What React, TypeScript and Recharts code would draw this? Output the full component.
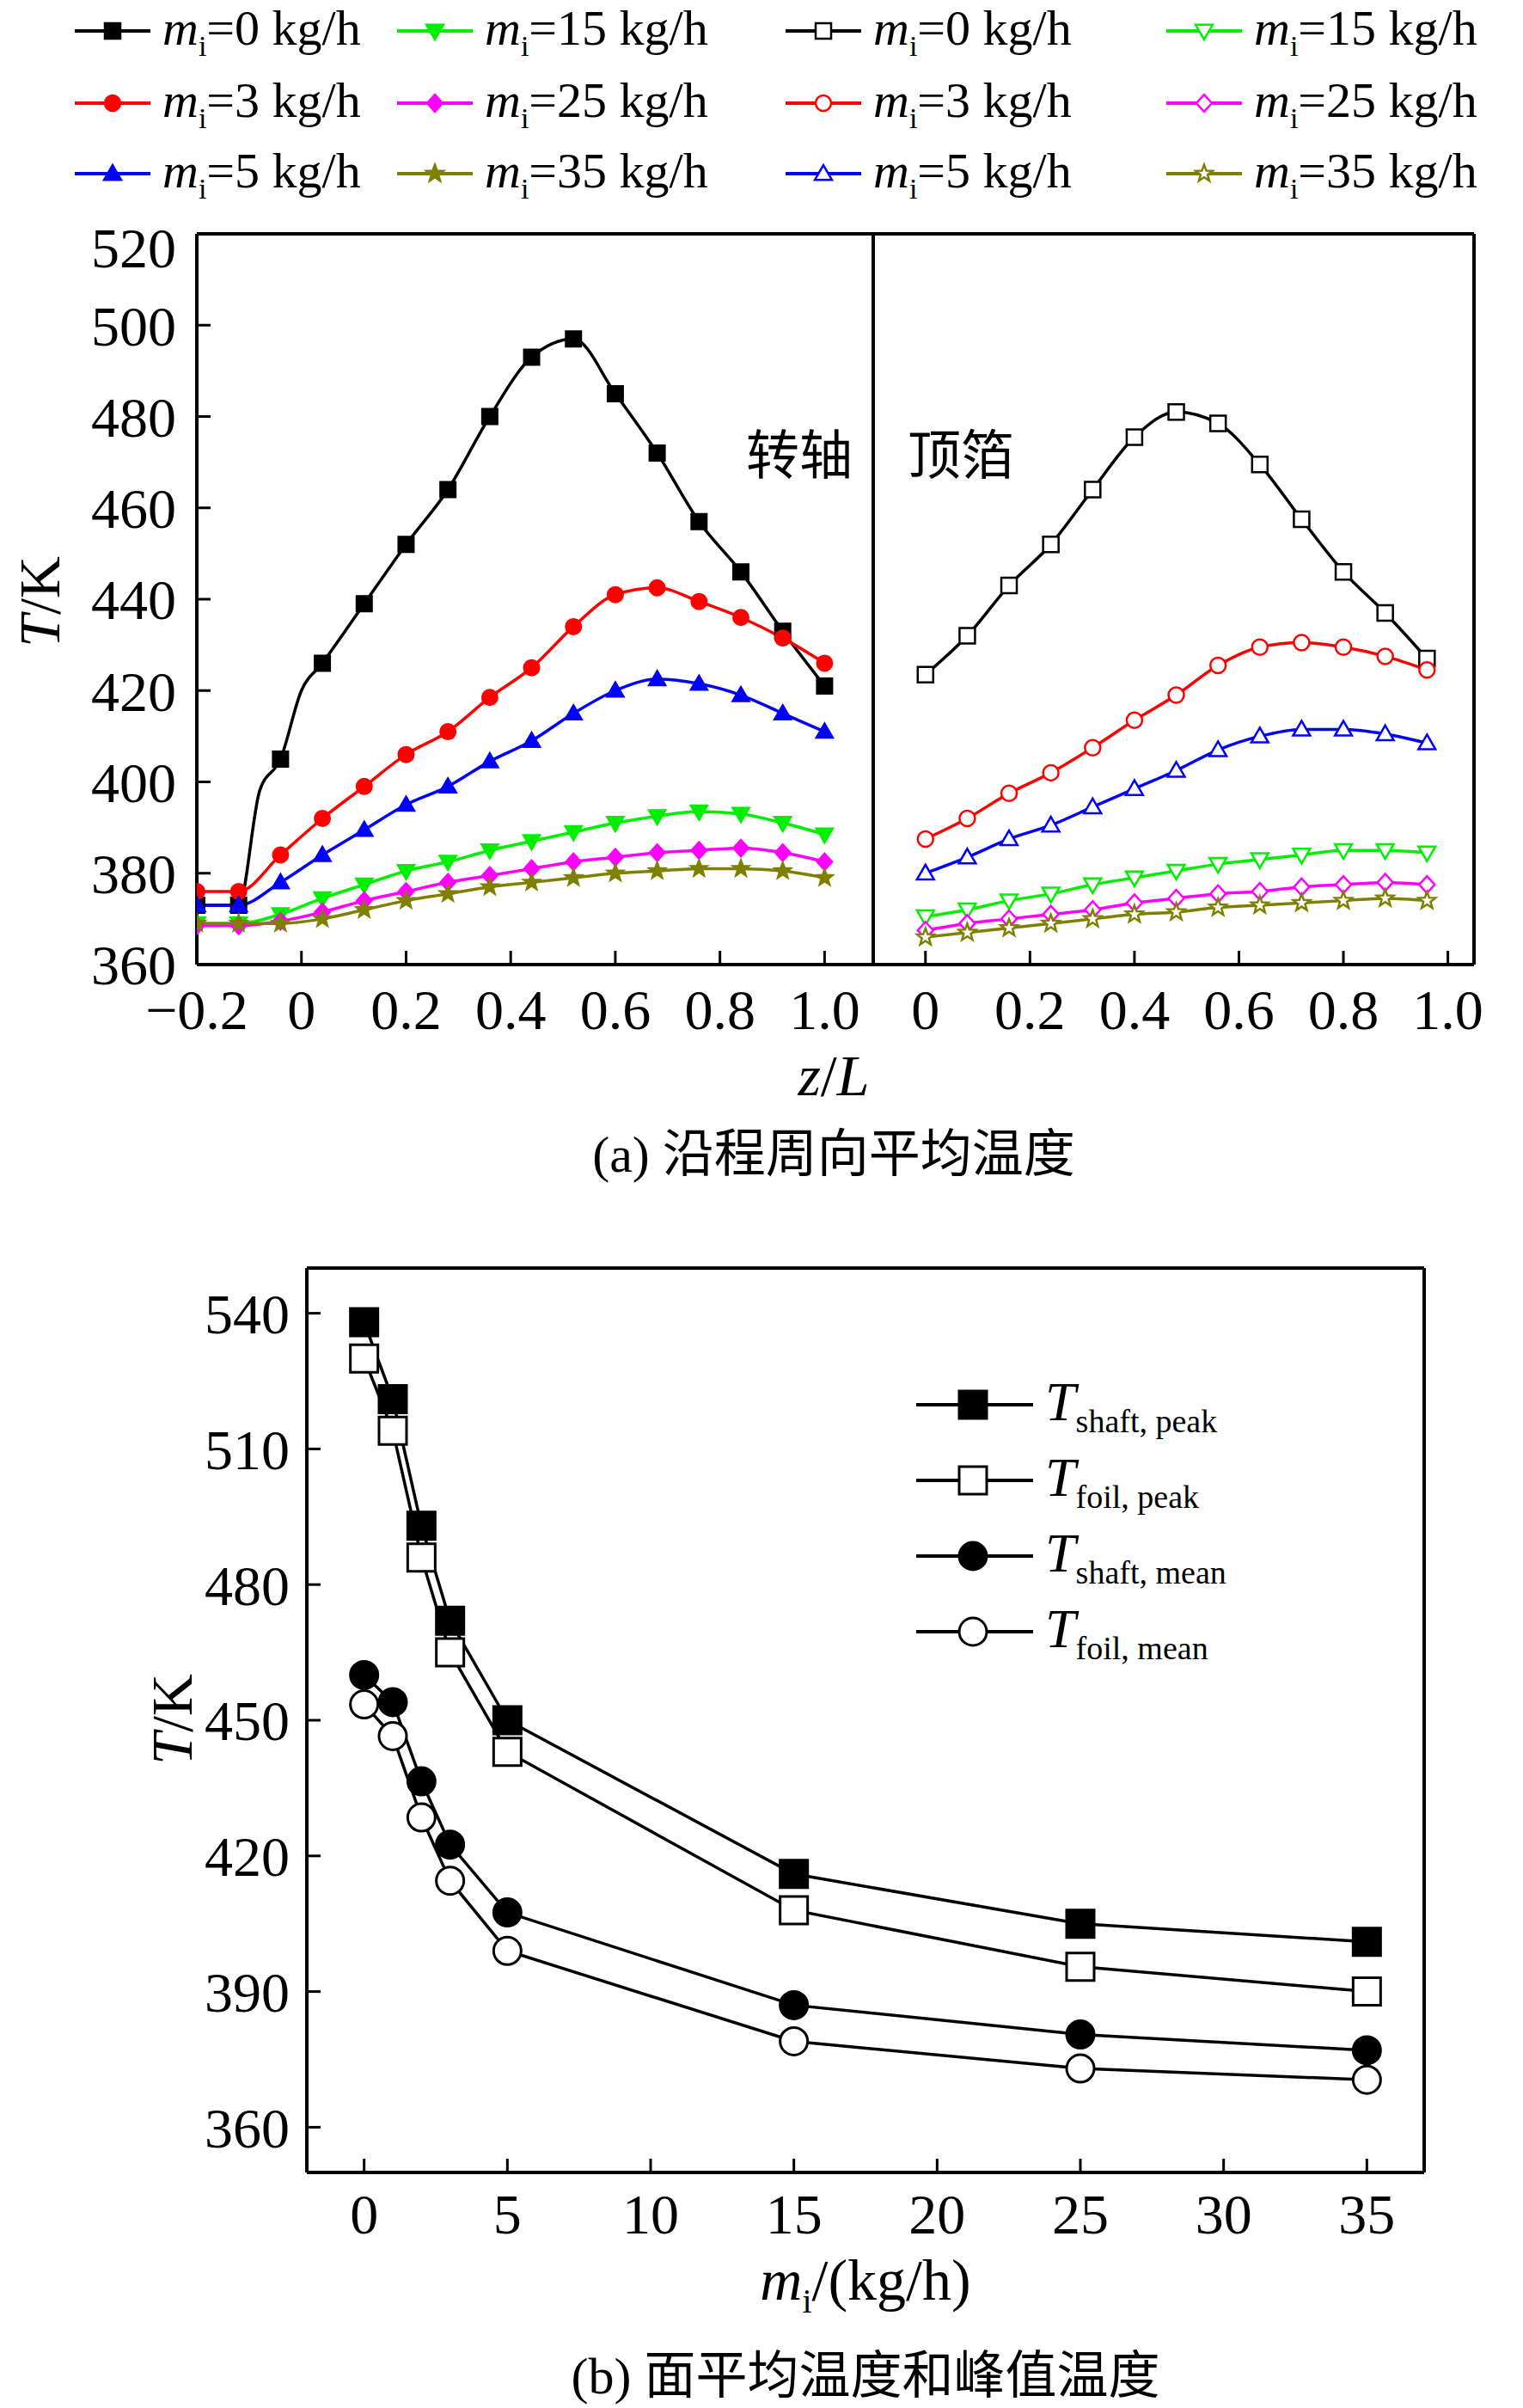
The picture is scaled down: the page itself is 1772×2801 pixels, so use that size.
import React from 'react';
import { LineChart, Line, XAxis, YAxis, ReferenceLine } from 'recharts';

// ---- data (a): circumferential mean temperature along z/L ----
const zShaft = [-0.2, -0.12, -0.04, 0.04, 0.12, 0.2, 0.28, 0.36, 0.44, 0.52, 0.6, 0.68, 0.76, 0.84, 0.92, 1.0];
const shaft0 = [373, 373, 405, 426, 439, 452, 464, 480, 493, 497, 485, 472, 457, 446, 433, 421];
const shaft0Extra = [{ z: -0.08, t: 398 }, { z: 0.0, t: 420 }];
const shaft3 = [376, 376, 384, 392, 399, 406, 411, 418.5, 425, 434, 441, 442.5, 439.5, 436, 431.5, 426];
const shaft5 = [373, 373, 378, 384, 389.5, 395, 399, 404.5, 409, 415, 420, 422.5, 421.5, 419, 415, 411];
const shaft15 = [369, 369, 371, 374.5, 377.5, 380.5, 382.5, 385, 387, 389, 391, 392.5, 393.5, 393, 391, 388.5];
const shaft25 = [368.5, 368.5, 369.5, 371.5, 374, 376, 378, 379.5, 381, 382.5, 383.5, 384.5, 385, 385.5, 384.5, 382.5];
const shaft35 = [369, 369, 369, 370, 372, 374, 375.5, 377, 378, 379, 380, 380.5, 381, 381, 380.5, 379];

const zFoil = [0, 0.08, 0.16, 0.24, 0.32, 0.4, 0.48, 0.56, 0.64, 0.72, 0.8, 0.88, 0.96];
const foil0 = [423.5, 432, 443, 452, 464, 475.5, 481, 478.5, 469.5, 457.5, 446, 437, 427];
const foil3 = [387.5, 392, 397.5, 402, 407.5, 413.5, 419, 425.5, 429.5, 430.5, 429.5, 427.5, 424.5];
const foil5 = [380, 383.5, 387.5, 390.5, 394.5, 398.5, 402.5, 407, 410, 411.5, 411.5, 410.5, 408.5];
const foil15 = [370.5, 372, 374, 375.5, 377.5, 379, 380.5, 382, 383, 384, 385, 385, 384.5];
const foil25 = [367.5, 369, 370, 371, 372, 373.5, 374.5, 375.5, 376, 377, 377.5, 378, 377.5];
const foil35 = [366, 367, 368, 369, 370, 371, 371.5, 372.5, 373, 373.5, 374, 374.5, 374];

const shaftTicksX = [-0.2, 0, 0.2, 0.4, 0.6, 0.8, 1.0];
const foilTicksX = [0, 0.2, 0.4, 0.6, 0.8, 1.0];
const ticksTopY = [360, 380, 400, 420, 440, 460, 480, 500, 520];

// ---- data (b): mean and peak temperature vs mi ----
const massFlow = [0, 1, 2, 3, 5, 15, 25, 35];
const shaftPeak = [538, 521, 493, 472, 450, 416, 405, 401];
const foilPeak = [530, 514, 486, 465, 443, 408, 395.5, 390];
const shaftMean = [460, 454, 436.5, 422.5, 407.5, 387, 380.5, 377];
const foilMean = [453.5, 446.5, 428.5, 414.5, 399, 379, 373, 370.5];
const ticksBottomX = [0, 5, 10, 15, 20, 25, 30, 35];
const ticksBottomY = [360, 390, 420, 450, 480, 510, 540];

const flowLabels = ['0', '3', '5', '15', '25', '35'];
const colors = ['#000000', '#ff0000', '#0000ff', '#00ee00', '#ff00ff', '#808000'];
const shapes = ['square', 'circle', 'triUp', 'triDown', 'diamond', 'star'];

const FONT = '"Liberation Serif", "Times New Roman", serif';
const CJK = '"Noto Sans CJK SC", sans-serif';

const toPts = (xs: number[], ys: number[]) => xs.map((z, i) => ({ z, t: ys[i] }));

function markerPath(shape: string, cx: number, cy: number, s: number): string {
  const r = s / 2;
  switch (shape) {
    case 'square':
      return `M${cx - r},${cy - r}h${s}v${s}h${-s}Z`;
    case 'triUp':
      return `M${cx},${cy - r * 1.1}L${cx + r * 1.1},${cy + r * 0.8}L${cx - r * 1.1},${cy + r * 0.8}Z`;
    case 'triDown':
      return `M${cx},${cy + r * 1.1}L${cx + r * 1.1},${cy - r * 0.8}L${cx - r * 1.1},${cy - r * 0.8}Z`;
    case 'diamond':
      return `M${cx},${cy - r * 1.1}L${cx + r},${cy}L${cx},${cy + r * 1.1}L${cx - r},${cy}Z`;
    case 'star': {
      let d = '';
      for (let k = 0; k < 10; k++) {
        const rr = k % 2 === 0 ? r * 1.15 : r * 0.48;
        const a = -Math.PI / 2 + (k * Math.PI) / 5;
        d += (k === 0 ? 'M' : 'L') + (cx + rr * Math.cos(a)).toFixed(2) + ',' + (cy + rr * Math.sin(a)).toFixed(2);
      }
      return d + 'Z';
    }
    default:
      return '';
  }
}

function Mark({ shape, color, open, cx, cy, size, sw }: any) {
  const fill = open ? '#ffffff' : color;
  if (shape === 'circle') {
    return <circle cx={cx} cy={cy} r={size / 2} fill={fill} stroke={color} strokeWidth={sw} />;
  }
  return <path d={markerPath(shape, cx, cy, size)} fill={fill} stroke={color} strokeWidth={sw} />;
}

const dotFn = (shape: string, color: string, open: boolean, size: number, sw: number) => (p: any) => {
  if (p.payload && p.payload.extra) return <g key={p.index} />;
  return <Mark key={p.index} shape={shape} color={color} open={open} cx={p.cx} cy={p.cy} size={size} sw={sw} />;
};

const fmtZ = (v: number) => (v === 0 ? '0' : v < 0 ? '\u2212' + Math.abs(v).toFixed(1) : v.toFixed(1));

const tickStyle = { fontFamily: FONT, fontSize: 66, fill: '#000' };
const axisLine = { stroke: '#000', strokeWidth: 4 };
const tickLine = { stroke: '#000', strokeWidth: 3 };
const frame = { stroke: '#000', strokeWidth: 4 };

function LegendItem({ x, y, idx, open }: any) {
  return (
    <div style={{ position: 'absolute', left: x, top: y - 40, height: 80, display: 'flex', alignItems: 'center' }}>
      <svg width={92} height={40} style={{ marginRight: 12 }}>
        <line x1={2} y1={20} x2={90} y2={20} stroke={colors[idx]} strokeWidth={4} />
        <Mark shape={shapes[idx]} color={colors[idx]} open={open} cx={46} cy={20} size={18} sw={2.5} />
      </svg>
      <span style={{ fontFamily: FONT, fontSize: 58, whiteSpace: 'nowrap' }}>
        <i>m</i><sub style={{ fontSize: 34 }}>i</sub>={flowLabels[idx]} kg/h
      </span>
    </div>
  );
}

const shaftSeries = [shaft0, shaft3, shaft5, shaft15, shaft25, shaft35];
const foilSeries = [foil0, foil3, foil5, foil15, foil25, foil35];

export default function App() {
  const shaftData = shaftSeries.map((s, i) =>
    i === 0
      ? [...toPts(zShaft, s), ...shaft0Extra.map((e) => ({ ...e, extra: true }))].sort((a, b) => a.z - b.z)
      : toPts(zShaft, s)
  );
  const foilData = foilSeries.map((s) => toPts(zFoil, s));
  const bSeries = [
    { d: shaftPeak, shape: 'square', open: false, label: 'shaft, peak' },
    { d: foilPeak, shape: 'square', open: true, label: 'foil, peak' },
    { d: shaftMean, shape: 'circle', open: false, label: 'shaft, mean' },
    { d: foilMean, shape: 'circle', open: true, label: 'foil, mean' },
  ];

  const legendRows = [36, 120, 202];
  const legendCols = [[85, false], [460, false], [912, true], [1355, true]] as const;

  return (
    <div style={{ position: 'absolute', left: 0, top: 0, width: 1772, height: 2801, background: '#fff', overflow: 'hidden' }}>
      {/* legend (a) */}
      {legendCols.map(([x, open], c) =>
        legendRows.map((y, r) => {
          const idx = (c % 2) * 3 + r;
          return <LegendItem key={`${c}-${r}`} x={x} y={y} idx={idx} open={open} />;
        })
      )}

      {/* (a) left panel: shaft */}
      <div style={{ position: 'absolute', left: 0, top: 250 }}>
        <LineChart width={1020} height={992} margin={{ top: 22, right: 4, bottom: 0, left: 119 }}>
          <XAxis xAxisId="b" type="number" dataKey="z" domain={[-0.2, 1.093]} ticks={shaftTicksX} allowDataOverflow
            tickFormatter={fmtZ} tick={tickStyle} axisLine={axisLine} tickLine={tickLine}
            tickSize={-16} tickMargin={44} height={120} />
          <YAxis yAxisId="l" domain={[360, 520]} ticks={ticksTopY} tick={tickStyle} axisLine={axisLine}
            tickLine={tickLine} tickSize={-16} tickMargin={40} width={110} />
          <ReferenceLine xAxisId="b" yAxisId="l" y={520} {...frame} />
          <ReferenceLine xAxisId="b" yAxisId="l" x={1.093} {...frame} />
          {shaftData.map((d, i) => (
            <Line key={i} xAxisId="b" yAxisId="l" data={d} dataKey="t" type="monotone" stroke={colors[i]} strokeWidth={3.5}
              dot={dotFn(shapes[i], colors[i], false, 18, 2)} isAnimationActive={false} />
          ))}
        </LineChart>
      </div>

      {/* (a) right panel: foil */}
      <div style={{ position: 'absolute', left: 1000, top: 250 }}>
        <LineChart width={735} height={992} margin={{ top: 22, right: 20, bottom: 0, left: 16 }}>
          <XAxis xAxisId="b" type="number" dataKey="z" domain={[-0.1, 1.05]} ticks={foilTicksX} allowDataOverflow
            tickFormatter={fmtZ} tick={tickStyle} axisLine={axisLine} tickLine={tickLine}
            tickSize={-16} tickMargin={44} height={120} />
          <YAxis yAxisId="l" domain={[360, 520]} tick={false} tickLine={false} axisLine={false} width={0} />
          <ReferenceLine xAxisId="b" yAxisId="l" y={520} {...frame} />
          <ReferenceLine xAxisId="b" yAxisId="l" x={1.05} {...frame} />
          {foilData.map((d, i) => (
            <Line key={i} xAxisId="b" yAxisId="l" data={d} dataKey="t" type="monotone" stroke={colors[i]} strokeWidth={3.5}
              dot={dotFn(shapes[i], colors[i], true, 18, 2.5)} isAnimationActive={false} />
          ))}
        </LineChart>
      </div>

      <div style={{ position: 'absolute', left: 868, top: 480, fontFamily: CJK, fontSize: 62 }}>转轴</div>
      <div style={{ position: 'absolute', left: 1056, top: 480, fontFamily: CJK, fontSize: 62 }}>顶箔</div>
      <div style={{ position: 'absolute', left: 6, top: 660, width: 80, height: 80, display: 'flex', alignItems: 'center', justifyContent: 'center', transform: 'rotate(-90deg)', fontFamily: FONT, fontSize: 68, whiteSpace: 'nowrap' }}>
        <span><i>T</i>/K</span>
      </div>
      <div style={{ position: 'absolute', left: 0, width: 1940, top: 1212, textAlign: 'center', fontFamily: FONT, fontSize: 68 }}>
        <i>z</i>/<i>L</i>
      </div>
      <div style={{ position: 'absolute', left: 0, width: 1940, top: 1304, textAlign: 'center', fontSize: 60, lineHeight: 1.1 }}>
        <span style={{ fontFamily: FONT }}>(a) </span><span style={{ fontFamily: CJK }}>沿程周向平均温度</span>
      </div>

      {/* (b) */}
      <div style={{ position: 'absolute', left: 0, top: 1400 }}>
        <LineChart width={1680} height={1247} margin={{ top: 75, right: 23, bottom: 0, left: 227 }}>
          <XAxis xAxisId="b" type="number" dataKey="z" domain={[-2, 37]} ticks={ticksBottomX} allowDataOverflow
            tick={tickStyle} axisLine={axisLine} tickLine={tickLine}
            tickSize={-16} tickMargin={40} height={120} />
          <YAxis yAxisId="l" domain={[350, 550]} ticks={ticksBottomY} tick={tickStyle} axisLine={axisLine}
            tickLine={tickLine} tickSize={-16} tickMargin={36} width={130} />
          <ReferenceLine xAxisId="b" yAxisId="l" y={550} {...frame} />
          <ReferenceLine xAxisId="b" yAxisId="l" x={37} {...frame} />
          {bSeries.map((s, i) => (
            <Line key={i} xAxisId="b" yAxisId="l" data={toPts(massFlow, s.d)} dataKey="t" type="linear" stroke="#000"
              strokeWidth={3.5} dot={dotFn(s.shape, '#000', s.open, 32, 3)} isAnimationActive={false} />
          ))}
        </LineChart>
      </div>

      {bSeries.map((s, i) => (
        <div key={i} style={{ position: 'absolute', left: 1064, top: 1634 + i * 88 - 44, height: 88, display: 'flex', alignItems: 'center' }}>
          <svg width={140} height={44}>
            <line x1={2} y1={22} x2={138} y2={22} stroke="#000" strokeWidth={4} />
            <Mark shape={s.shape} color="#000" open={s.open} cx={68} cy={22} size={32} sw={3} />
          </svg>
          <span style={{ fontFamily: FONT, fontSize: 64, marginLeft: 12, whiteSpace: 'nowrap' }}>
            <i>T</i><sub style={{ fontSize: 38 }}>{s.label}</sub>
          </span>
        </div>
      ))}

      <div style={{ position: 'absolute', left: 160, top: 1960, width: 80, height: 80, display: 'flex', alignItems: 'center', justifyContent: 'center', transform: 'rotate(-90deg)', fontFamily: FONT, fontSize: 68, whiteSpace: 'nowrap' }}>
        <span><i>T</i>/K</span>
      </div>
      <div style={{ position: 'absolute', left: 0, width: 2014, top: 2615, textAlign: 'center', fontFamily: FONT, fontSize: 68, lineHeight: 1.1 }}>
        <i>m</i><sub style={{ fontSize: 40 }}>i</sub>/(kg/h)
      </div>
      <div style={{ position: 'absolute', left: 0, width: 2014, top: 2725, textAlign: 'center', fontSize: 60, lineHeight: 1.1 }}>
        <span style={{ fontFamily: FONT }}>(b) </span><span style={{ fontFamily: CJK }}>面平均温度和峰值温度</span>
      </div>
    </div>
  );
}
